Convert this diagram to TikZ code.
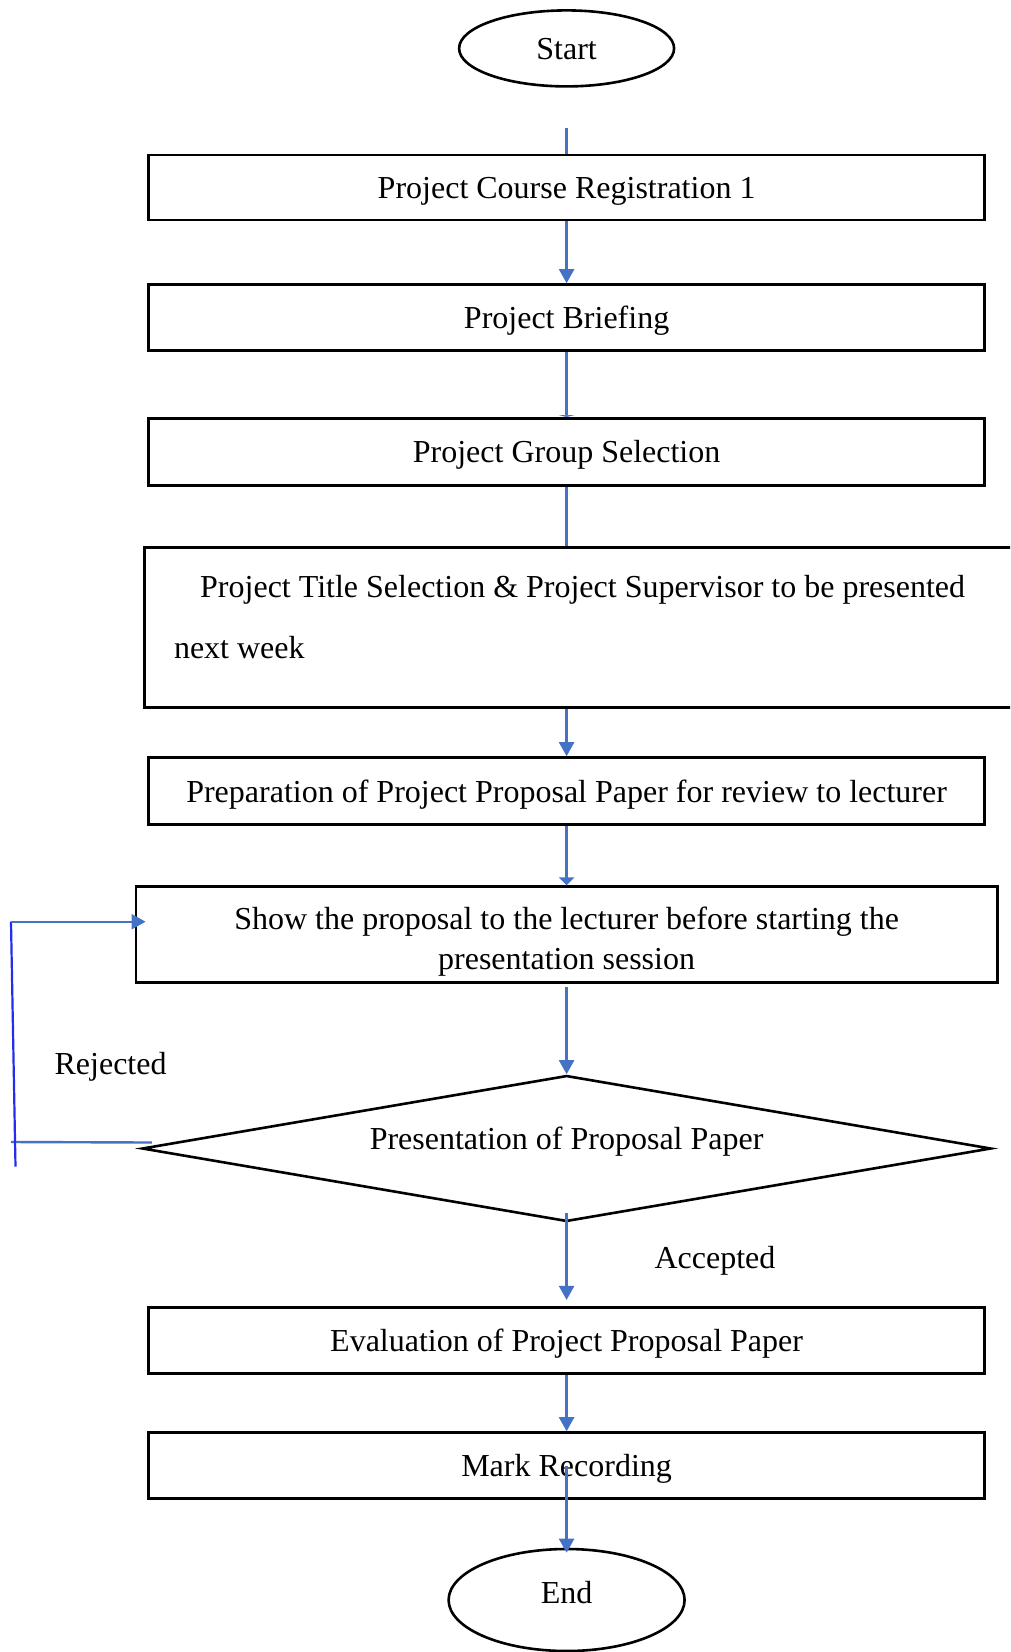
\documentclass[tikz,border=0pt]{standalone}
\usepackage{fontspec}
\setmainfont{Liberation Serif}
\usetikzlibrary{shapes.geometric,arrows.meta}
\definecolor{linkblue}{RGB}{68,114,196}
\definecolor{loopblue}{RGB}{35,45,235}
\begin{document}
\begin{tikzpicture}[x=1pt,y=-1pt,
  txt/.style={font=\fontsize{32}{40}\selectfont},
  one/.style={txt,text height=23pt,text depth=1pt},
  box/.style={one,draw=black,line width=2.6pt,rectangle,minimum width=836pt,minimum height=65pt,inner sep=0pt},
  term/.style={one,draw=black,line width=2.6pt,ellipse,inner sep=0pt},
  dec/.style={draw=black,line width=2.6pt,diamond,inner sep=0pt,minimum width=849pt,minimum height=146pt},
  lbl/.style={one,inner sep=0pt},
  conn/.style={draw=linkblue,line width=2.4pt},
  arr/.style={conn,-{Triangle[width=15pt,length=14pt]}},
  arrsmall/.style={conn,-{Triangle[width=15pt,length=8pt]}},
  arrflat/.style={conn,-{Triangle[width=16pt,length=2pt]}}]
\useasboundingbox (0,0) rectangle (1010,1652);
\clip (0,0) rectangle (1010,1652);
\fill[white] (0,0) rectangle (1010,1652);

\node[term,minimum width=215pt,minimum height=76pt] (start) at (566.6,48.4) {Start};
\node[box] (b1) at (566.6,187.5) {Project Course Registration 1};
\node[box,minimum height=66pt] (b2) at (566.6,317.5) {Project Briefing};
\node[box,minimum height=67pt] (b3) at (566.6,451.8) {Project Group Selection};
\node[box,minimum width=880pt,minimum height=160pt] (b4) at (584.3,627.7) {};
\node[lbl,anchor=west] (t4a) at (200,586.6) {Project Title Selection \& Project Supervisor to be presented};
\node[lbl,anchor=west] (t4b) at (173.8,647.7) {next week};
\node[box,minimum height=67pt] (b5) at (566.6,791) {Preparation of Project Proposal Paper for review to lecturer};
\node[box,minimum width=861.5pt,minimum height=96pt] (b6) at (566.6,934.7) {};
\node[txt,inner sep=0pt,align=center] (b6text) at (566.6,942) {Show the proposal to the lecturer before starting the\\presentation session};
\node[dec] (d) at (566.6,1148.5) {};
\node[lbl] (dtext) at (566.6,1138.5) {Presentation of Proposal Paper};
\node[box,minimum height=66pt] (b7) at (566.6,1340.2) {Evaluation of Project Proposal Paper};
\node[box,minimum height=66pt] (b8) at (566.6,1465.5) {Mark Recording};
\node[term,minimum width=236pt,minimum height=102pt] (end) at (566.6,1600) {};
\node[lbl] (endtext) at (566.6,1592.5) {End};

\node[lbl] (rej) at (110.6,1063.7) {Rejected};
\node[lbl] (acc) at (715,1257.5) {Accepted};

\coordinate (s0) at (566.6,128);
\draw[conn] (s0) -- (b1.north);
\draw[arr] (b1.south) -- (b2.north);
\draw[arrflat] (b2.south) -- (b3.north);
\draw[conn] (b3.south) -- (b3.south |- b4.north);
\draw[arr] (b3.south |- b4.south) -- (b5.north);
\draw[arrsmall] (b5.south) -- (b6.north);
\draw[arr] ([yshift=-3pt]b6.south) -- (d.north);

% rejected loop
\coordinate (rbot) at (11,1142);
\coordinate (rtop) at (11,921.7);
\coordinate (rend) at (15.5,1166.7);
\draw[conn] ([xshift=11pt,yshift=6pt]d.west) -- (rbot);
\draw[draw=loopblue,line width=2.2pt] (rtop) -- (rend);
\draw[arr] (rtop) -- ([xshift=11pt,yshift=13pt]b6.west);

\draw[arr] ([yshift=10pt]d.south) -- ([yshift=6pt]b7.north);
\draw[arr] (b7.south) -- (b8.north);
\draw[arr] (b8.center) -- ([yshift=-5pt]end.north);
\end{tikzpicture}
\end{document}
